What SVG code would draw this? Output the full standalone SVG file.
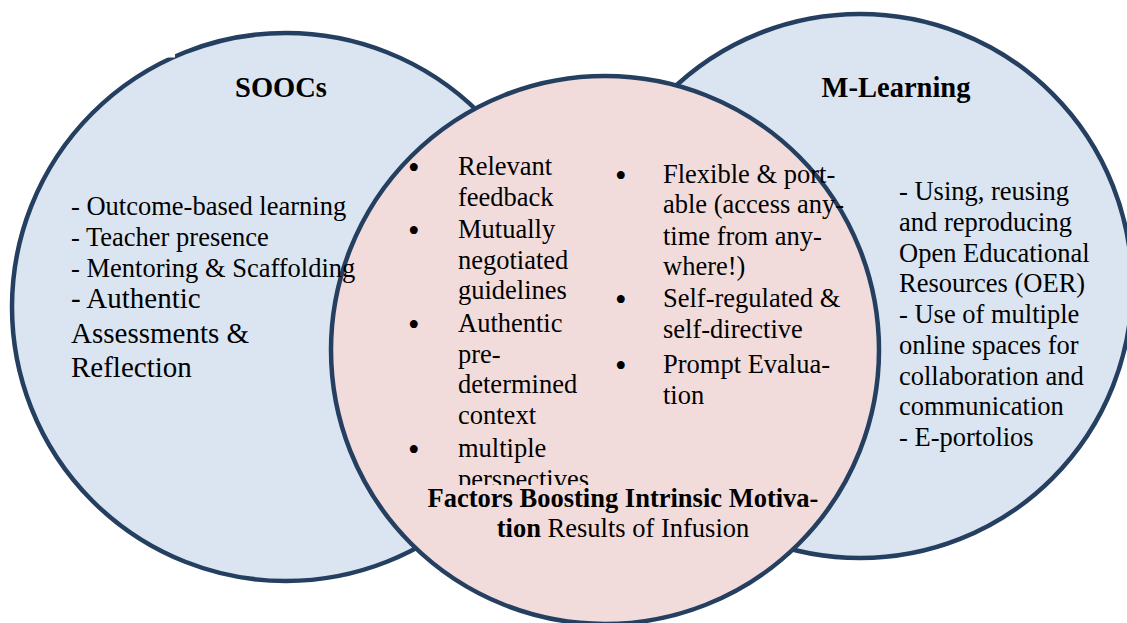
<svg xmlns="http://www.w3.org/2000/svg" width="1127" height="623" viewBox="0 0 1127 623">
  <style>
    .ring { stroke: #243F60; stroke-width: 4.5; }
    .blue { fill: #DBE5F1; }
    .pink { fill: #F2DCDB; }
    text { font-family: "Liberation Serif", "Times New Roman", serif; fill: #000; font-size: 26.5px; }
    .title { font-weight: bold; font-size: 28.5px; text-anchor: middle; }
    .big { font-size: 29px; }
    .b { font-weight: bold; }
    .dot { font-size: 33px; }
  </style>
  <defs>
    <clipPath id="colClip">
      <rect x="400" y="140" width="200" height="345"/>
    </clipPath>
  </defs>
  <rect width="1127" height="623" fill="#fff"/>

  <!-- circle shapes -->
  <g id="soocs">
    <circle class="ring blue" cx="286" cy="307" r="274"/>
    <rect x="167" y="54" width="8" height="3.5" fill="#fff"/>
  </g>
  <g id="m-learning">
    <circle class="ring blue" cx="860" cy="286" r="272"/>
  </g>
  <g id="motivation">
    <circle class="ring pink" cx="605" cy="350" r="274"/>
  </g>

  <!-- SOOCs text -->
  <g id="soocs-text">
    <text class="title" x="281" y="97">SOOCs</text>
    <text x="71" y="215">- Outcome-based learning</text>
    <text x="71" y="246">- Teacher presence</text>
    <text x="71" y="277">- Mentoring &amp; Scaffolding</text>
    <text class="big" x="71" y="308">- Authentic</text>
    <text class="big" x="71" y="343">Assessments &amp;</text>
    <text class="big" x="71" y="377">Reflection</text>
  </g>

  <!-- M-Learning text -->
  <g id="m-learning-text">
    <text class="title" x="896" y="97">M-Learning</text>
    <text x="899" y="200">- Using, reusing</text>
    <text x="899" y="231">and reproducing</text>
    <text x="899" y="262">Open Educational</text>
    <text x="899" y="292">Resources (OER)</text>
    <text x="899" y="323">- Use of multiple</text>
    <text x="899" y="354">online spaces for</text>
    <text x="899" y="385">collaboration and</text>
    <text x="899" y="415">communication</text>
    <text x="899" y="446">- E-portolios</text>
  </g>

  <!-- centre text: two bullet columns and caption -->
  <g id="motivation-text">
    <g clip-path="url(#colClip)">
      <text class="dot" x="408" y="179">•</text>
      <text x="458" y="175">Relevant</text>
      <text x="458" y="205.5">feedback</text>
      <text class="dot" x="408" y="242">•</text>
      <text x="458" y="238">Mutually</text>
      <text x="458" y="268.5">negotiated</text>
      <text x="458" y="299">guidelines</text>
      <text class="dot" x="408" y="336">•</text>
      <text x="458" y="332">Authentic</text>
      <text x="458" y="362.5">pre-</text>
      <text x="458" y="393">determined</text>
      <text x="458" y="423.5">context</text>
      <text class="dot" x="408" y="461">•</text>
      <text x="458" y="457">multiple</text>
      <text x="458" y="487.5">perspectives</text>
    </g>
    <text class="dot" x="615" y="187">•</text>
    <text x="663" y="183">Flexible &amp; port-</text>
    <text x="663" y="213">able (access any-</text>
    <text x="663" y="245">time from any-</text>
    <text x="663" y="275">where!)</text>
    <text class="dot" x="615" y="311">•</text>
    <text x="663" y="307">Self-regulated &amp;</text>
    <text x="663" y="338">self-directive</text>
    <text class="dot" x="615" y="377">•</text>
    <text x="663" y="373">Prompt Evalua-</text>
    <text x="663" y="404">tion</text>
    <text x="623" y="507" text-anchor="middle" class="b">Factors Boosting Intrinsic Motiva-</text>
    <text x="623" y="537" text-anchor="middle"><tspan class="b">tion</tspan> Results of Infusion</text>
  </g>
</svg>
